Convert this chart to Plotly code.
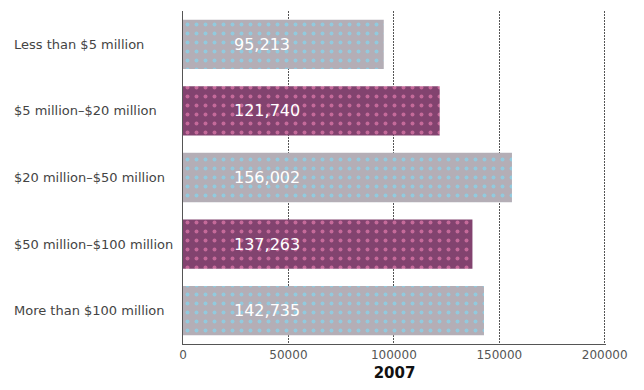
import plotly.graph_objects as go

# Average household income by company revenue band, 2007
categories = [
    "Less than $5 million",
    "$5 million\u2013$20 million",
    "$20 million\u2013$50 million",
    "$50 million\u2013$100 million",
    "More than $100 million",
]
values = [95213, 121740, 156002, 137263, 142735]
tick_vals = [0, 50000, 100000, 150000, 200000]
tick_text = ["0", "50000", "100000", "150000", "200000"]

# alternating fill: gray with cyan dots, plum with pink dots
styles = {
    "gray": dict(bg="#b4aeb6", dot="#92cade"),
    "plum": dict(bg="#82436f", dot="#c56a9a"),
}
band_style = ["gray", "plum", "gray", "plum", "gray"]

fig = go.Figure()
for name, st in styles.items():
    idx = [i for i, s in enumerate(band_style) if s == name]
    fig.add_trace(go.Bar(
        y=[categories[i] for i in idx],
        x=[values[i] for i in idx],
        orientation="h",
        marker=dict(
            color=st["bg"],
            line=dict(width=0),
            pattern=dict(shape=".", bgcolor=st["bg"], fgcolor=st["dot"],
                         size=9, solidity=0.15, fillmode="replace"),
        ),
        hoverinfo="skip",
        showlegend=False,
    ))

# value labels inside each bar
for cat, v in zip(categories, values):
    fig.add_annotation(
        x=23000, y=cat, xref="x", yref="y",
        text=f"{v:,}", showarrow=False, xanchor="left", yanchor="middle",
        font=dict(family="DejaVu Sans", size=16, color="white"),
    )

# left-aligned category labels
for cat in categories:
    fig.add_annotation(
        x=-0.405, y=cat, xref="paper", yref="y",
        text=cat, showarrow=False, xanchor="left", yanchor="middle",
        font=dict(family="DejaVu Sans", size=13, color="#444444"),
    )

fig.update_layout(
    width=644, height=390,
    margin=dict(l=183, r=38, t=11, b=46),
    paper_bgcolor="white", plot_bgcolor="white",
    bargap=0.26,
    barmode="overlay",
    xaxis=dict(
        range=[0, 200600], tickvals=tick_vals, ticktext=tick_text,
        showgrid=True, gridcolor="#555555", gridwidth=1, griddash="2px,1px",
        zeroline=False, showline=True, linecolor="#555555", linewidth=1,
        ticks="",
        tickfont=dict(family="DejaVu Sans", size=12, color="#555555"),
        title=dict(text="<b>2007</b>", standoff=6,
                   font=dict(family="DejaVu Sans", size=15, color="#111111")),
    ),
    yaxis=dict(
        categoryorder="array", categoryarray=categories, autorange="reversed",
        showticklabels=False, showgrid=False, zeroline=False,
        showline=True, linecolor="#555555", linewidth=1,
    ),
)

fig.write_html("out.html")
